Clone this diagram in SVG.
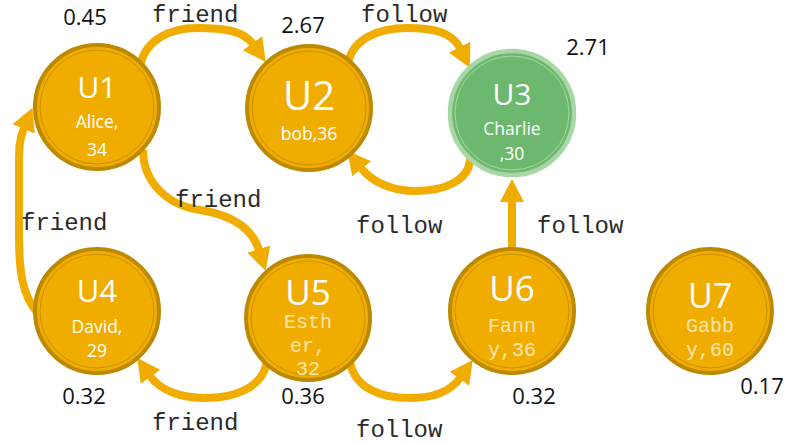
<svg xmlns="http://www.w3.org/2000/svg" width="793" height="443" viewBox="0 0 793 443">
  <style>
    .node { fill: #f0ad00; stroke: #bc8900; stroke-width: 4; }
    .ring { fill: none; stroke: #bc8900; stroke-width: 1; opacity: 0.8; }
    .node-green { fill: #6cb86e; stroke: #a8d6a5; stroke-width: 4.5; }
    .ring-green { fill: none; stroke: #a8d6a5; stroke-width: 1; }
    .id { font-family: "Open Sans", "Liberation Sans", sans-serif; fill: #ffffff; text-anchor: middle; }
    .info { font-family: "Open Sans", "Liberation Sans", sans-serif; font-size: 17.5px; fill: #ffffff; text-anchor: middle; }
    .info-mono { font-family: "Liberation Mono", "DejaVu Sans Mono", monospace; font-size: 20px; fill: #fce6ad; text-anchor: middle; }
    .edge { fill: none; stroke: #f0ad00; stroke-width: 8; }
    .elabel { font-family: "Liberation Mono", "Courier New", monospace; font-size: 24px; fill: #2a2a2a; }
    .score { font-family: "Open Sans", "Liberation Sans", sans-serif; font-size: 22px; fill: #111111; text-anchor: middle; }
  </style>
  <defs>
    <marker id="arrow" markerUnits="userSpaceOnUse" markerWidth="26" markerHeight="28" viewBox="0 -14 26 28" refX="1" refY="0" orient="auto">
      <path d="M0,-12 L23,0 L0,12 Z" fill="#f0ad00"/>
    </marker>
  </defs>

  <!-- connectors -->
  <g id="edges">
    <path class="edge" marker-end="url(#arrow)" d="M140,66 C145,40 170,28 197,28 C222,28 243,30 253,44"/>
    <path class="edge" marker-end="url(#arrow)" d="M348,63 C353,38 380,28 407,28 C433,28 452,32 460,48"/>
    <path class="edge" marker-end="url(#arrow)" d="M470,155 C472,180 445,191 415,191 C392,191 372,182 361,168"/>
    <path class="edge" marker-end="url(#arrow)" d="M143,150 C143,180 165,205 200,210 C232,215 252,228 259,250"/>
    <path class="edge" marker-end="url(#arrow)" d="M37,312 C22,295 19,270 19,235 L19,165 C19,150 19,140 24,128"/>
    <path class="edge" marker-end="url(#arrow)" d="M267,362 C262,388 235,398 205,398 C180,398 160,390 150,376"/>
    <path class="edge" marker-end="url(#arrow)" d="M350,362 C355,388 380,398 410,398 C433,398 450,392 460,378"/>
    <path class="edge" marker-end="url(#arrow)" d="M512,253 L512,201"/>

    <text class="elabel" x="152" y="22">friend</text>
    <text class="elabel" x="361" y="22">follow</text>
    <text class="elabel" x="175" y="207">friend</text>
    <text class="elabel" x="21" y="230">friend</text>
    <text class="elabel" x="356" y="233">follow</text>
    <text class="elabel" x="537" y="233">follow</text>
    <text class="elabel" x="152" y="430">friend</text>
    <text class="elabel" x="356" y="437">follow</text>
  </g>

  <!-- nodes -->
  <g id="u1">
    <circle class="node" cx="97" cy="107" r="62"/>
    <circle class="ring" cx="97" cy="107" r="57"/>
    <text class="id" x="97" y="98" font-size="30">U1</text>
    <text class="info" x="97" y="128">Alice,</text>
    <text class="info" x="97" y="156">34</text>
    <text class="score" x="85" y="25">0.45</text>
  </g>
  <g id="u2">
    <circle class="node" cx="309" cy="108" r="62"/>
    <circle class="ring" cx="309" cy="108" r="57"/>
    <text class="id" x="309" y="110" font-size="40">U2</text>
    <text class="info" x="309" y="140">bob,36</text>
    <text class="score" x="303" y="33">2.67</text>
  </g>
  <g id="u3">
    <circle class="node-green" cx="512" cy="113" r="62"/>
    <circle class="ring-green" cx="512" cy="113" r="57"/>
    <text class="id" x="512" y="105" font-size="30">U3</text>
    <text class="info" x="512" y="135">Charlie</text>
    <text class="info" x="512" y="160">,30</text>
    <text class="score" x="588" y="55">2.71</text>
  </g>
  <g id="u4">
    <circle class="node" cx="97" cy="311" r="62"/>
    <circle class="ring" cx="97" cy="311" r="57"/>
    <text class="id" x="97" y="302" font-size="31">U4</text>
    <text class="info" x="97" y="333">David,</text>
    <text class="info" x="97" y="357">29</text>
    <text class="score" x="84" y="404">0.32</text>
  </g>
  <g id="u5">
    <circle class="node" cx="308" cy="318" r="62"/>
    <circle class="ring" cx="308" cy="318" r="57"/>
    <text class="id" x="308" y="305" font-size="35">U5</text>
    <text class="info-mono" x="308" y="328">Esth</text>
    <text class="info-mono" x="308" y="352">er,</text>
    <text class="info-mono" x="308" y="375">32</text>
    <text class="score" x="303" y="404">0.36</text>
  </g>
  <g id="u6">
    <circle class="node" cx="512" cy="311" r="62"/>
    <circle class="ring" cx="512" cy="311" r="57"/>
    <text class="id" x="512" y="301" font-size="35">U6</text>
    <text class="info-mono" x="512" y="332">Fann</text>
    <text class="info-mono" x="512" y="356">y,36</text>
    <text class="score" x="534" y="404">0.32</text>
  </g>
  <g id="u7">
    <circle class="node" cx="710" cy="311" r="62"/>
    <circle class="ring" cx="710" cy="311" r="57"/>
    <text class="id" x="710" y="308" font-size="34">U7</text>
    <text class="info-mono" x="710" y="332">Gabb</text>
    <text class="info-mono" x="710" y="356">y,60</text>
    <text class="score" x="762" y="394">0.17</text>
  </g>
</svg>
